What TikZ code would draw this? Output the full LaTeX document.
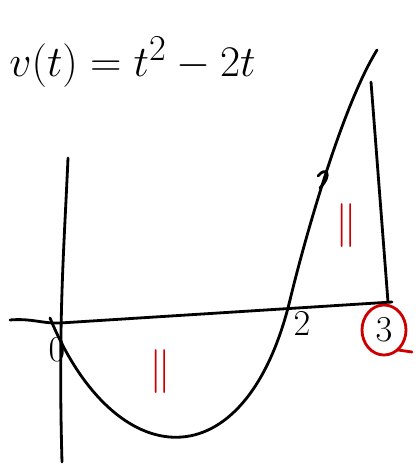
\documentclass[tikz,border=0pt]{standalone}
\usepackage{tikz}
\begin{document}
\begin{tikzpicture}[x=0.02cm,y=-0.02cm,line width=1.6pt,line cap=round,line join=round,
  every node/.style={font=\huge},
  redmark/.style={red!80!black,font=\Huge}]
\useasboundingbox (0,0) rectangle (418,466);
% formula
\node[anchor=west,font=\Huge] (vel) at (2,62) {$v(t)=t^2-2t$};
% axes
\draw (10,320) .. controls (30,318) and (45,324) .. (60,323) -- (392,302);
\draw (68,158) .. controls (64,250) and (58,320) .. (62,462);
% velocity curve
\draw (50,318) .. controls (115,475) and (245,485) .. (290,300)
      .. controls (302,250) and (340,110) .. (377,50);
\draw (371,82) -- (388,302);
% tick on curve
\draw (318,176) .. controls (326,166) and (333,174) .. (320,188);
% labels
\node (zero) at (57,350) {$0$};
\node (two) at (302,324) {$2$};
\node (three) at (384,330) {$3$};
\draw[red!80!black] (three) ellipse (22 and 25);
\draw[red!80!black] (398,350) -- (412,352);
\node[redmark] (areaA) at (160,372) {$\|$};
\node[redmark] (areaB) at (346,226) {$\|$};
\end{tikzpicture}
\end{document}
